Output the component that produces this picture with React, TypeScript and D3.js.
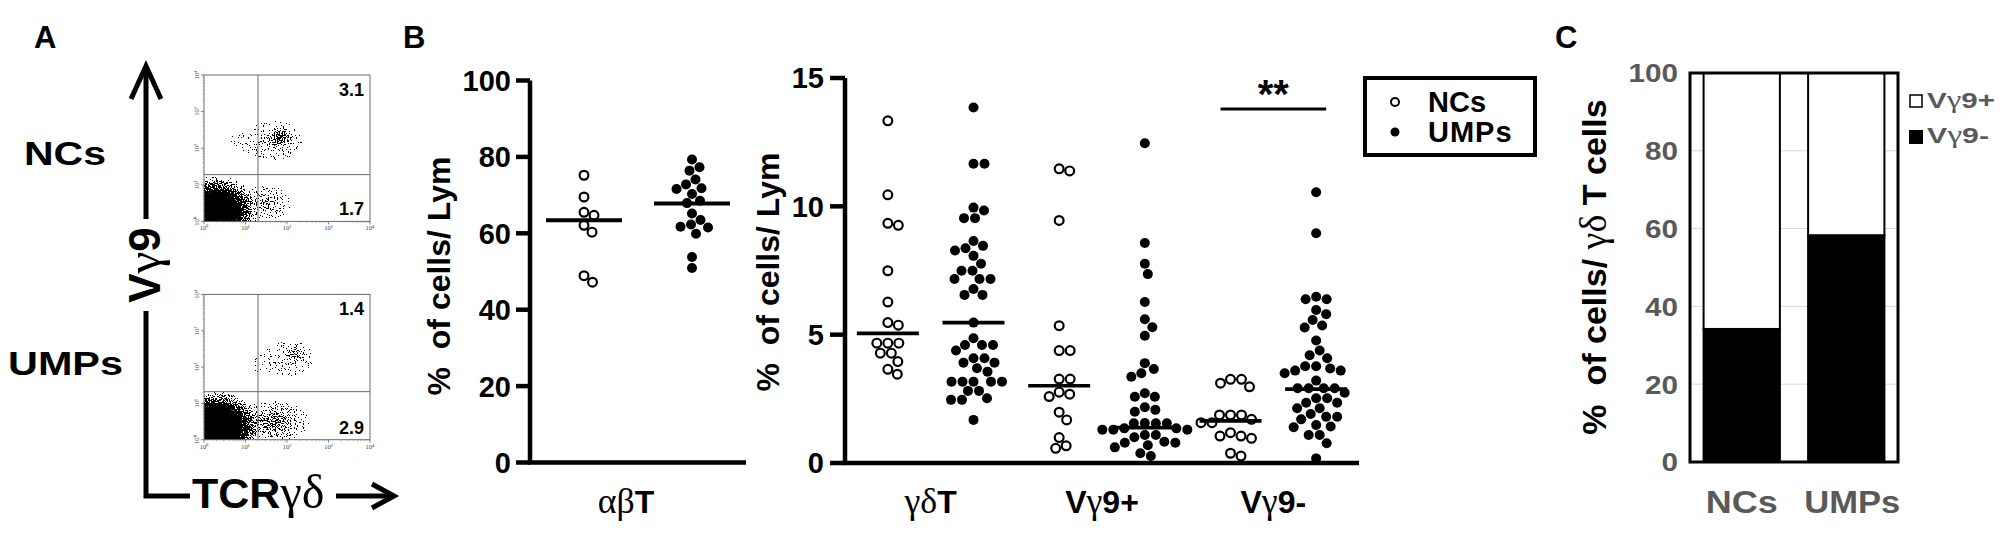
import * as d3 from 'd3';
import React from 'react';

// ---------- data ----------
// panel A: flow cytometry (TCRγδ vs Vγ9), quadrant percentages
const flowSamples = ['NCs', 'UMPs'];
const flowUpperRight = ['3.1', '1.4'];
const flowLowerRight = ['1.7', '2.9'];
const flowGateX = [20, 20];
const flowGateY = [19, 21];
// event clouds in log10 decades: [cx, cy, rx, ry, peak density, solid core fraction]
const ncClouds = [
  [0.3, 0.3, 1.0, 0.95, 1, 0.6],
  [1.5, 0.5, 0.65, 0.55, 0.45, 0],
  [1.85, 2.3, 0.32, 0.3, 0.75, 0],
  [1.75, 2.2, 0.75, 0.65, 0.25, 0],
  [1.2, 2.2, 1.1, 0.7, 0.1, 0],
];
const umpClouds = [
  [0.3, 0.35, 1.05, 1.0, 1, 0.65],
  [1.65, 0.5, 0.95, 0.6, 0.65, 0],
  [2.2, 2.35, 0.3, 0.28, 0.5, 0],
  [2.1, 2.25, 0.7, 0.6, 0.2, 0],
  [1.4, 2.1, 1.0, 0.8, 0.07, 0],
];

// panel B left: αβT % of lymphocytes
const abGroups = ['NCs', 'UMPs'];
const abNC = [75.2, 69.5, 65.5, 64.7, 62.1, 60.3, 48.9, 47.2];
const abUMP = [79.3, 77.3, 76.4, 74.1, 72.8, 71.8, 71.6, 70.3, 68.5, 67.9, 65.2, 63.5, 62.3, 61.7, 61.5, 59.9, 53.8, 50.9];
const abMedians = [63.4, 67.8];

// panel B right: γδT subsets % of lymphocytes
const subsets = ['γδT', 'Vγ9+', 'Vγ9-'];
const gdNC = [13.33, 10.45, 9.34, 9.26, 7.49, 6.27, 5.47, 5.37, 4.67, 4.67, 4.67, 4.28, 4.28, 3.95, 3.65, 3.46];
const gdUMP = [13.85, 11.66, 11.66, 9.95, 9.84, 9.54, 9.54, 8.65, 8.46, 8.37, 8.28, 8.07, 7.76, 7.49, 7.49, 7.17, 7.17, 7.17, 6.78, 6.55, 6.55, 5.47, 4.86, 4.6, 4.6, 4.6, 4.38, 4.08, 4.08, 3.91, 3.91, 3.69, 3.56, 3.17, 3.17, 3.17, 3.17, 3.17, 2.81, 2.81, 2.52, 2.46, 2.46, 1.68];
const vg9pNC = [11.46, 11.38, 9.45, 5.35, 4.38, 4.38, 3.27, 3.27, 2.76, 2.68, 2.59, 1.98, 1.68, 0.99, 0.67, 0.57];
const vg9pUMP = [12.46, 8.57, 7.76, 7.36, 6.27, 5.6, 5.29, 4.96, 3.89, 3.66, 3.5, 3.36, 2.72, 2.58, 2.58, 2.17, 2.07, 2.0, 1.56, 1.55, 1.55, 1.55, 1.35, 1.35, 1.3, 1.3, 1.3, 1.09, 1.09, 1.0, 0.83, 0.79, 0.79, 0.69, 0.61, 0.38, 0.27];
const vg9nNC = [3.26, 3.26, 3.11, 2.97, 1.87, 1.87, 1.87, 1.7, 1.57, 1.57, 1.18, 1.05, 1.05, 0.96, 0.38, 0.27];
const vg9nUMP = [10.55, 8.95, 6.48, 6.38, 6.38, 5.96, 5.8, 5.57, 5.36, 5.28, 4.77, 4.38, 4.2, 4.08, 3.77, 3.77, 3.68, 3.6, 3.6, 3.5, 3.21, 2.91, 2.91, 2.91, 2.91, 2.74, 2.52, 2.52, 2.35, 2.35, 2.13, 2.13, 1.91, 1.8, 1.8, 1.7, 1.48, 1.42, 1.39, 1.09, 1.09, 0.77, 0.18];
const subsetMedians = [5.05, 5.47, 3.01, 1.38, 1.64, 2.88];

// panel C: composition of γδ T cells
const cGroups = ['NCs', 'UMPs'];
const vg9Neg = [34.2, 58.3];
const vg9Pos = [65.8, 41.7];

const SANS = "'Liberation Sans', Arial, Helvetica, sans-serif";
const SERIF = "'Liberation Serif', 'Times New Roman', serif";
const GREY = '#595959';

// greek letters come from a serif face, a little larger than the bold sans around them
const Greek = ({ children }: { children: React.ReactNode }) => (
  <tspan fontFamily={SERIF} fontWeight="normal" fontSize="1.12em">{children}</tspan>
);

// simple beeswarm: place points nearest to the centre without overlap
function swarm(values: number[], y: (v: number) => number, cx: number, d: number) {
  const sorted = [...values].sort((a, b) => b - a);
  const placed: { x: number; y: number }[] = [];
  for (const v of sorted) {
    const py = y(v);
    let best = 0;
    for (let k = 0; k < 400; k++) {
      const dx = k === 0 ? 0 : (k % 2 ? 1 : -1) * Math.ceil(k / 2) * 0.5;
      if (placed.every((p) => (p.x - dx) ** 2 + (p.y - py) ** 2 >= d * d)) {
        best = dx;
        break;
      }
    }
    placed.push({ x: best, y: py });
  }
  return placed.map((p) => ({ x: cx + p.x, y: p.y }));
}

const FlowPlot = ({ idx, top, bottom, clouds }: { idx: number; top: number; bottom: number; clouds: number[][] }) => {
  const x0 = 204, x1 = 370;
  const x = d3.scaleLog().domain([1, 1e4]).range([x0, x1]);
  const y = d3.scaleLog().domain([1, 1e4]).range([bottom, top]);
  const dx = (x1 - x0) / 4, dy = (bottom - top) / 4;
  const decades = [1, 10, 100, 1000, 10000];
  const minor = d3.range(0, 4).flatMap((e) => d3.range(2, 10).map((m) => m * 10 ** e));
  const sup = ['⁰', '¹', '²', '³', '⁴'];
  return (
    <g>
      <defs>
        <clipPath id={`flowclip${idx}`}>
          <rect x={x0} y={top} width={x1 - x0} height={bottom - top} />
        </clipPath>
        <filter id={`speckle${idx}`} filterUnits="userSpaceOnUse" x={0} y={0} width={2002} height={540}
          colorInterpolationFilters="sRGB">
          <feTurbulence type="fractalNoise" baseFrequency="0.85" numOctaves={1} seed={idx * 7 + 3} result="noise" />
          <feColorMatrix in="noise" type="matrix" values="0 0 0 0 0  0 0 0 0 0  0 0 0 0 0  3 0 0 0 -1" result="n" />
          <feComposite in="SourceGraphic" in2="n" operator="arithmetic" k1={0} k2={1} k3={-1} k4={0} result="diff" />
          <feComponentTransfer in="diff">
            <feFuncA type="discrete" tableValues="0 1 1 1 1 1 1 1 1 1 1 1 1 1 1 1 1 1 1 1" />
          </feComponentTransfer>
        </filter>
        {clouds.map((c, i) => (
          <radialGradient key={i} id={`cloud${idx}-${i}`}>
            <stop offset="0" stopColor="#000" stopOpacity={c[4]} />
            <stop offset={c[5]} stopColor="#000" stopOpacity={c[4]} />
            <stop offset="1" stopColor="#000" stopOpacity={0} />
          </radialGradient>
        ))}
      </defs>
      <g clipPath={`url(#flowclip${idx})`}>
        <g filter={`url(#speckle${idx})`}>
          {clouds.map((c, i) => (
            <ellipse key={i} cx={x(10 ** c[0])} cy={y(10 ** c[1])} rx={c[2] * dx} ry={c[3] * dy}
              fill={`url(#cloud${idx}-${i})`} />
          ))}
        </g>
        {clouds.filter((c) => c[5] > 0).map((c, i) => (
          <ellipse key={i} cx={x(10 ** c[0])} cy={y(10 ** c[1])} rx={c[2] * c[5] * dx * 0.92}
            ry={c[3] * c[5] * dy * 0.92} fill="#000" />
        ))}
      </g>
      <rect x={x0} y={top} width={x1 - x0} height={bottom - top} fill="none" stroke="#6a6a6a" strokeWidth={1} />
      <line x1={x(flowGateX[idx])} x2={x(flowGateX[idx])} y1={top} y2={bottom} stroke="#6a6a6a" strokeWidth={1} />
      <line x1={x0} x2={x1} y1={y(flowGateY[idx])} y2={y(flowGateY[idx])} stroke="#6a6a6a" strokeWidth={1} />
      {minor.map((m) => (
        <g key={m} stroke="#888" strokeWidth={0.6}>
          <line x1={x(m)} x2={x(m)} y1={bottom} y2={bottom + 1.5} />
          <line x1={x0} x2={x0 - 1.5} y1={y(m)} y2={y(m)} />
        </g>
      ))}
      {decades.map((t, i) => (
        <g key={t} fill="#444" fontSize={6.5} fontFamily={SERIF}>
          <line x1={x(t)} x2={x(t)} y1={bottom} y2={bottom + 3} stroke="#666" strokeWidth={0.8} />
          <line x1={x0} x2={x0 - 3} y1={y(t)} y2={y(t)} stroke="#666" strokeWidth={0.8} />
          <text x={x(t)} y={bottom + 9} textAnchor="middle">{'10' + sup[i]}</text>
          <text transform={`translate(${x0 - 5},${y(t)}) rotate(-90)`} textAnchor="middle">{'10' + sup[i]}</text>
        </g>
      ))}
      <text x={364} y={top + 20.5} textAnchor="end" fontSize={18} fontWeight="bold">{flowUpperRight[idx]}</text>
      <text x={364} y={bottom - 6} textAnchor="end" fontSize={18} fontWeight="bold">{flowLowerRight[idx]}</text>
    </g>
  );
};

const PanelA = () => (
  <g>
    <text x={34} y={48} fontSize={31} fontWeight="bold">A</text>
    <text x={24} y={165} fontSize={33} fontWeight="bold" textLength={82} lengthAdjust="spacingAndGlyphs">{flowSamples[0]}</text>
    <text x={8} y={375} fontSize={33} fontWeight="bold" textLength={115} lengthAdjust="spacingAndGlyphs">{flowSamples[1]}</text>
    <FlowPlot idx={0} top={75} bottom={221.4} clouds={ncClouds} />
    <FlowPlot idx={1} top={294.4} bottom={439.7} clouds={umpClouds} />
    <g stroke="#000" strokeWidth={5} fill="none">
      <path d="M146,68 V219" />
      <path d="M131,99 L146,66 L161,99" strokeLinejoin="miter" />
      <path d="M146,311 V496 H190" />
      <path d="M336,496 H392" />
      <path d="M372,484 L394,496 L372,508" />
    </g>
    <text transform="translate(160,265) rotate(-90)" textAnchor="middle" fontSize={44} fontWeight="bold">
      V<Greek>γ</Greek>9
    </text>
    <text x={192} y={508} fontSize={43} fontWeight="bold">
      TCR<Greek>γδ</Greek>
    </text>
  </g>
);

const Dots = ({ pts, open }: { pts: { x: number; y: number }[]; open: boolean }) => (
  <g>
    {pts.map((p, i) =>
      open ? (
        <circle key={i} cx={p.x} cy={p.y} r={4.4} fill="#fff" stroke="#000" strokeWidth={2.2} />
      ) : (
        <circle key={i} cx={p.x} cy={p.y} r={5} fill="#000" />
      ),
    )}
  </g>
);

const PanelBLeft = () => {
  const y = d3.scaleLinear().domain([0, 100]).range([462.5, 80.5]);
  const x = d3.scaleBand().domain(abGroups).range([530, 746]);
  const bw = x.bandwidth();
  const series = [abNC, abUMP];
  return (
    <g>
      <text x={403} y={48} fontSize={31} fontWeight="bold">B</text>
      <path d={`M530,${y(100)} V${y(0)} H746`} fill="none" stroke="#000" strokeWidth={4.5} />
      {y.ticks(5).map((t) => (
        <g key={t}>
          <line x1={516} x2={530} y1={y(t)} y2={y(t)} stroke="#000" strokeWidth={4.5} />
          <text x={511} y={y(t)} dy="0.36em" textAnchor="end" fontSize={29} fontWeight="bold">{t}</text>
        </g>
      ))}
      {abGroups.map((g, i) => {
        const cx = x(g)! + bw / 2;
        return (
          <g key={g}>
            <Dots pts={swarm(series[i], y, cx, 10.4)} open={i === 0} />
            <line x1={cx - 38} x2={cx + 38} y1={y(abMedians[i])} y2={y(abMedians[i])} stroke="#000" strokeWidth={4} />
          </g>
        );
      })}
      <text transform={`translate(450,276) rotate(-90)`} textAnchor="middle" fontSize={32} fontWeight="bold"
        xmlSpace="preserve">{'%  of cells/ Lym'}</text>
      <text x={x(abGroups[0])! + bw - 12} y={513} textAnchor="middle" fontSize={32} fontWeight="bold">
        <Greek>αβ</Greek>T
      </text>
    </g>
  );
};

const PanelBRight = () => {
  const y = d3.scaleLinear().domain([0, 15]).range([463, 78]);
  const keys = subsets.flatMap((s) => [s + '|NCs', s + '|UMPs']);
  const x = d3.scaleBand().domain(keys).range([845, 1359]);
  const bw = x.bandwidth();
  const series = [gdNC, gdUMP, vg9pNC, vg9pUMP, vg9nNC, vg9nUMP];
  const labelParts = [
    ['', 'γδ', 'T'],
    ['V', 'γ', '9+'],
    ['V', 'γ', '9-'],
  ];
  const sigX0 = x(keys[4])! + bw / 2 - 10, sigX1 = x(keys[5])! + bw / 2 + 10;
  return (
    <g>
      <path d={`M845,${y(15)} V${y(0)} H1359`} fill="none" stroke="#000" strokeWidth={4.5} />
      {[0, 5, 10, 15].map((t) => (
        <g key={t}>
          <line x1={830} x2={845} y1={y(t)} y2={y(t)} stroke="#000" strokeWidth={4.5} />
          <text x={824} y={y(t)} dy="0.36em" textAnchor="end" fontSize={29} fontWeight="bold">{t}</text>
        </g>
      ))}
      {keys.map((k, i) => {
        const cx = x(k)! + bw / 2;
        return (
          <g key={k}>
            <Dots pts={swarm(series[i], y, cx, 10.6)} open={i % 2 === 0} />
            <line x1={cx - 31} x2={cx + 31} y1={y(subsetMedians[i])} y2={y(subsetMedians[i])} stroke="#000" strokeWidth={3.6} />
          </g>
        );
      })}
      {subsets.map((s, i) => {
        const cx = x(keys[i * 2])! + bw;
        const p = labelParts[i];
        return (
          <text key={s} x={cx} y={513} textAnchor="middle" fontSize={32} fontWeight="bold">
            {p[0]}<Greek>{p[1]}</Greek>{p[2]}
          </text>
        );
      })}
      <text transform={`translate(779,272) rotate(-90)`} textAnchor="middle" fontSize={32} fontWeight="bold"
        xmlSpace="preserve">{'%  of cells/ Lym'}</text>
      <line x1={sigX0} x2={sigX1} y1={109} y2={109} stroke="#000" strokeWidth={3} />
      <text x={(sigX0 + sigX1) / 2} y={108} textAnchor="middle" fontSize={40} fontWeight="bold">**</text>
      <rect x={1365} y={78} width={170} height={77} fill="#fff" stroke="#000" strokeWidth={4} />
      <circle cx={1395} cy={102} r={4} fill="#fff" stroke="#000" strokeWidth={2} />
      <circle cx={1395} cy={132} r={4.5} fill="#000" />
      <text x={1428} y={112} fontSize={29} fontWeight="bold">NCs</text>
      <text x={1428} y={142} fontSize={29} fontWeight="bold" letterSpacing={1}>UMPs</text>
    </g>
  );
};

const PanelC = () => {
  const y = d3.scaleLinear().domain([0, 100]).range([462, 73]);
  const x = d3.scaleBand().domain(cGroups).range([1690, 1898]).paddingInner(0.27).paddingOuter(0.13);
  const table = cGroups.map((g, i) => ({ group: g, neg: vg9Neg[i], pos: vg9Pos[i] }));
  const stacked = d3.stack<any>().keys(['neg', 'pos'])(table);
  const fills = ['#000', '#fff'];
  return (
    <g>
      <text x={1555} y={48} fontSize={31} fontWeight="bold">C</text>
      {[20, 40, 60, 80].map((t) => (
        <line key={t} x1={1690} x2={1898} y1={y(t)} y2={y(t)} stroke="#d8d8d8" strokeWidth={1} />
      ))}
      {stacked.map((s, si) =>
        s.map((d, i) => (
          <rect key={si + '-' + i} x={x(cGroups[i])} y={y(d[1])} width={x.bandwidth()} height={y(d[0]) - y(d[1])}
            fill={fills[si]} stroke="#000" strokeWidth={2} />
        )),
      )}
      <rect x={1690} y={y(100)} width={208} height={y(0) - y(100)} fill="none" stroke="#000" strokeWidth={3} />
      {y.ticks(5).map((t) => (
        <text key={t} x={1678} y={y(t)} dy="0.36em" textAnchor="end" fontSize={26} fontWeight="bold" fill={GREY}
          textLength={String(t).length * 16.5} lengthAdjust="spacingAndGlyphs">{t}</text>
      ))}
      {cGroups.map((g, i) => (
        <text key={g} x={x(g)! + x.bandwidth() / 2 + (i ? 6 : 0)} y={513} textAnchor="middle" fontSize={32} fontWeight="bold"
          fill={GREY} textLength={i ? 96 : 72} lengthAdjust="spacingAndGlyphs">{g}</text>
      ))}
      <text transform={`translate(1606,267) rotate(-90)`} textAnchor="middle" fontSize={34} fontWeight="bold"
        xmlSpace="preserve">
        {'%  of cells/ '}<Greek>γδ</Greek>{' T cells'}
      </text>
      <rect x={1910} y={95} width={12} height={12} fill="#fff" stroke="#000" strokeWidth={1.5} />
      <rect x={1909} y={130} width={14} height={14} fill="#000" />
      <text x={1927} y={108} fontSize={22} fontWeight="bold" fill={GREY} textLength={68} lengthAdjust="spacingAndGlyphs">
        V<Greek>γ</Greek>9+
      </text>
      <text x={1927} y={143} fontSize={22} fontWeight="bold" fill={GREY} textLength={62} lengthAdjust="spacingAndGlyphs">
        V<Greek>γ</Greek>9-
      </text>
    </g>
  );
};

export default function App() {
  return (
    <svg width={2002} height={540} fontFamily={SANS} style={{ position: 'absolute', left: 0, top: 0, display: 'block' }}>
      <rect width={2002} height={540} fill="#fff" />
      <PanelA />
      <PanelBLeft />
      <PanelBRight />
      <PanelC />
    </svg>
  );
}
